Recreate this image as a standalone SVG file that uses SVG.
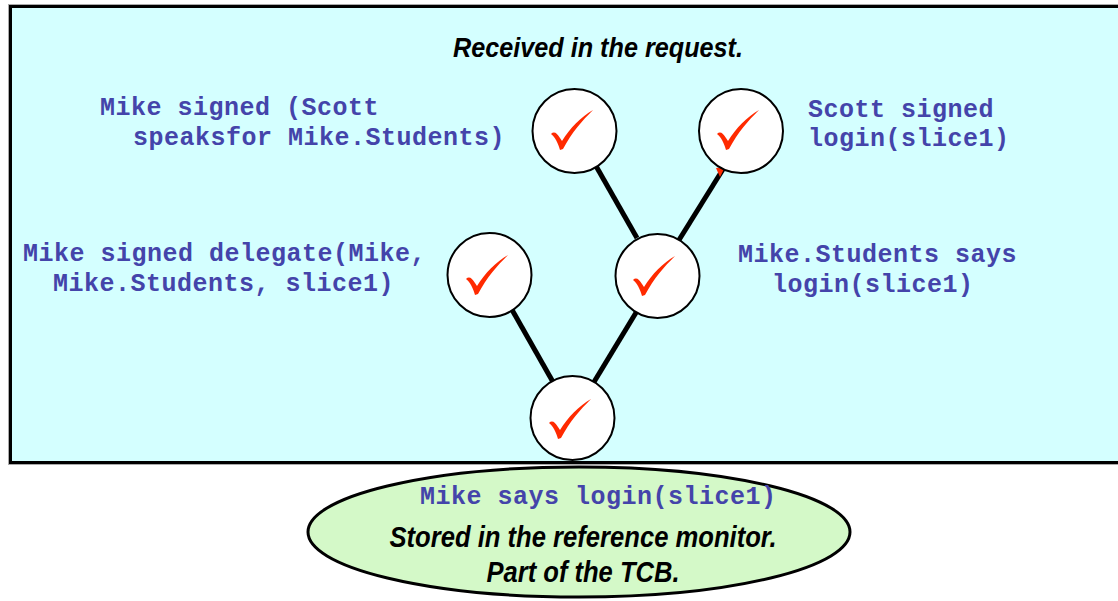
<svg xmlns="http://www.w3.org/2000/svg" width="1118" height="601" viewBox="0 0 1118 601">
<style>
.mono{font-family:"Liberation Mono","Courier New",monospace;font-weight:bold;font-size:25px;letter-spacing:0.5px;fill:#4444aa}
.ital{font-family:"Liberation Sans",Arial,sans-serif;font-weight:bold;font-style:italic;font-size:28px;fill:#000}
.big{font-size:30px}
.node{fill:#fff;stroke:#000;stroke-width:2}
.chk{fill:#ff2a00}
.edge{stroke:#000;stroke-width:5;fill:none}
</style>
<defs>
<path id="check" d="M -24,3 C -21,0 -18,2 -15,7 L -13,10 C -5,-3 6,-14 18,-21 C 7,-10 -3,1 -12,18 L -15,19 C -17,12 -20,6 -24,3 Z"/>
</defs>
<rect x="8.5" y="4.5" width="1120" height="460" fill="none" stroke="#aaa" stroke-width="1"/>
<rect id="request-box" x="10.5" y="6.5" width="1120" height="456" fill="#d4ffff" stroke="#000" stroke-width="3"/>
<text class="ital" x="453" y="57" textLength="290" lengthAdjust="spacingAndGlyphs">Received in the request.</text>
<g id="connectors">
<line class="edge" x1="596" y1="166" x2="637" y2="238"/>
<line class="edge" x1="725" y1="166" x2="679" y2="240"/>
<line class="edge" x1="511" y1="308" x2="553" y2="382"/>
<line class="edge" x1="637" y1="311" x2="594" y2="382"/>
</g>
<polygon points="716,168 725,167 720,177" fill="#ff2a00"/>
<g id="n-top-left">
<circle class="node" cx="574.5" cy="131" r="42"/>
<use href="#check" class="chk" x="575" y="131"/>
<text class="mono" x="100" y="115">Mike signed (Scott</text>
<text class="mono" x="133" y="145">speaksfor Mike.Students)</text>
</g>
<g id="n-top-right">
<circle class="node" cx="741" cy="131" r="42"/>
<use href="#check" class="chk" x="741" y="131"/>
<text class="mono" x="808" y="117">Scott signed</text>
<text class="mono" x="808" y="146">login(slice1)</text>
</g>
<g id="n-mid-left">
<circle class="node" cx="489.5" cy="275" r="42"/>
<use href="#check" class="chk" x="490" y="276"/>
<text class="mono" x="23" y="261">Mike signed delegate(Mike,</text>
<text class="mono" x="53" y="291">Mike.Students, slice1)</text>
</g>
<g id="n-mid-right">
<circle class="node" cx="657.5" cy="276" r="42"/>
<use href="#check" class="chk" x="657" y="277"/>
<text class="mono" x="738" y="262">Mike.Students says</text>
<text class="mono" x="772" y="292">login(slice1)</text>
</g>
<g id="n-bottom">
<circle class="node" cx="572.5" cy="418" r="42"/>
<use href="#check" class="chk" x="573" y="420"/>
</g>
<g id="reference-monitor">
<ellipse cx="579" cy="532" rx="271" ry="65" fill="#d4f9c8" stroke="#000" stroke-width="3"/>
<text class="mono" x="420" y="504">Mike says login(slice1)</text>
<text class="ital big" x="583" y="547" text-anchor="middle" textLength="387" lengthAdjust="spacingAndGlyphs">Stored in the reference monitor.</text>
<text class="ital big" x="583" y="582" text-anchor="middle" textLength="193" lengthAdjust="spacingAndGlyphs">Part of the TCB.</text>
</g>
</svg>
